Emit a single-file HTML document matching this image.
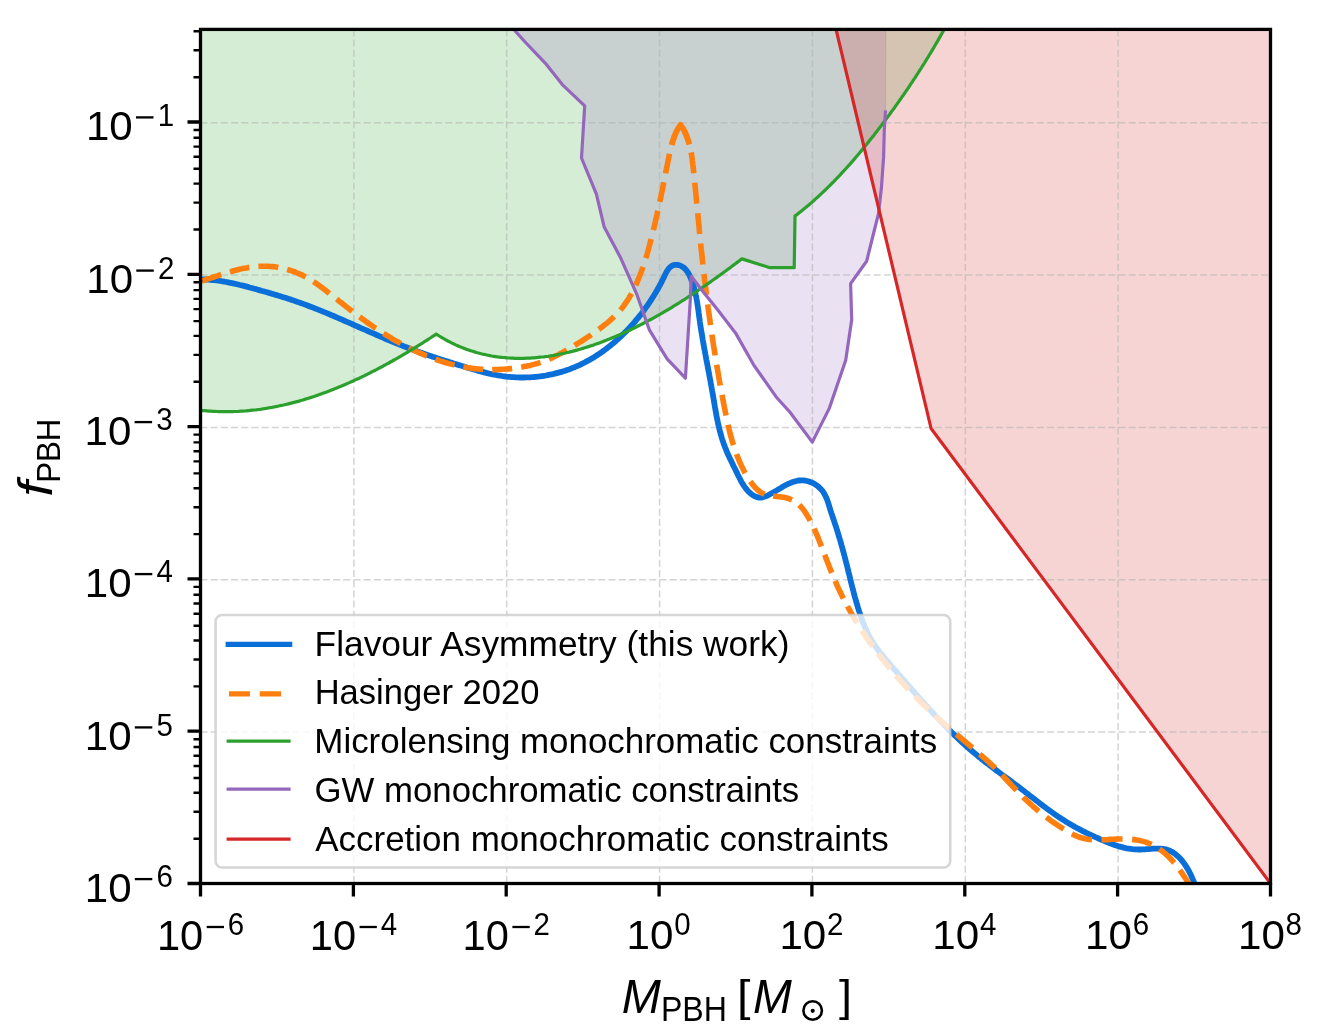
<!DOCTYPE html>
<html><head><meta charset="utf-8"><style>html,body{margin:0;padding:0;background:#fff;width:1331px;height:1034px;overflow:hidden}svg{display:block;will-change:transform}text{font-family:"Liberation Sans",sans-serif}</style></head><body>
<svg width="1331" height="1034" viewBox="0 0 1331 1034">
<defs><clipPath id="ax"><rect x="200.5" y="29.4" width="1070" height="854.1"/></clipPath></defs>
<rect x="0" y="0" width="1331" height="1034" fill="#fff"/>
<g clip-path="url(#ax)">
<path d="M194.9 409.6 L196.9 409.9 L198.9 410.1 L200.9 410.3 L202.9 410.6 L204.9 410.7 L206.9 410.9 L208.9 411.1 L210.9 411.2 L212.9 411.3 L214.9 411.4 L216.9 411.5 L218.9 411.6 L220.8 411.7 L222.8 411.7 L224.8 411.7 L226.8 411.7 L228.8 411.7 L230.8 411.7 L232.8 411.6 L234.7 411.5 L236.7 411.5 L238.7 411.4 L240.7 411.2 L242.6 411.1 L244.6 411 L246.6 410.8 L248.5 410.6 L250.5 410.4 L252.5 410.2 L254.4 410 L256.4 409.8 L258.3 409.5 L260.3 409.3 L262.3 409 L264.2 408.7 L266.2 408.4 L268.1 408 L270.1 407.7 L272 407.4 L273.9 407 L275.9 406.6 L277.8 406.2 L279.7 405.8 L281.7 405.4 L283.6 405 L285.5 404.5 L287.5 404.1 L289.4 403.6 L291.3 403.1 L293.2 402.6 L295.1 402.1 L297.1 401.6 L299 401.1 L300.9 400.5 L302.8 400 L304.7 399.4 L306.6 398.8 L308.5 398.2 L310.4 397.6 L312.3 397 L314.1 396.4 L316 395.7 L317.9 395.1 L319.8 394.4 L321.7 393.8 L323.5 393.1 L325.4 392.4 L327.3 391.7 L329.2 391 L331 390.3 L332.9 389.6 L334.7 388.8 L336.6 388.1 L338.4 387.3 L340.3 386.6 L342.1 385.8 L344 385 L345.8 384.2 L347.6 383.4 L349.5 382.6 L351.3 381.8 L353.1 381 L354.9 380.1 L356.7 379.3 L358.6 378.5 L360.4 377.6 L362.2 376.7 L364 375.9 L365.8 375 L367.6 374.1 L369.4 373.2 L371.1 372.3 L372.9 371.4 L374.7 370.5 L376.5 369.6 L378.2 368.6 L380 367.7 L381.8 366.8 L383.5 365.8 L385.3 364.9 L387 363.9 L388.8 363 L390.5 362 L392.3 361 L394 360 L395.7 359.1 L397.5 358.1 L399.2 357.1 L400.9 356.1 L402.6 355.1 L404.3 354.1 L406 353.1 L407.7 352.1 L409.4 351 L411.1 350 L412.8 349 L414.5 348 L416.2 346.9 L417.9 345.9 L419.5 344.8 L421.2 343.8 L422.9 342.8 L424.5 341.7 L426.2 340.7 L427.8 339.6 L429.5 338.5 L431.1 337.5 L432.7 336.4 L434.4 335.4 L436.1 334.1 L437.4 334.9 L439.2 336 L441 337.1 L442.8 338.2 L444.6 339.2 L446.5 340.3 L448.3 341.2 L450.2 342.2 L452 343.1 L453.9 344 L455.7 344.9 L457.6 345.7 L459.4 346.5 L461.3 347.3 L463.2 348 L465 348.7 L466.9 349.4 L468.8 350.1 L470.7 350.7 L472.6 351.3 L474.5 351.9 L476.4 352.5 L478.3 353 L480.2 353.5 L482.1 354 L484 354.4 L485.9 354.8 L487.8 355.2 L489.8 355.6 L491.7 356 L493.6 356.3 L495.5 356.6 L497.5 356.9 L499.4 357.1 L501.3 357.3 L503.2 357.5 L505.2 357.7 L507.1 357.9 L509.1 358 L511 358.1 L512.9 358.2 L514.9 358.3 L516.8 358.3 L518.8 358.4 L520.7 358.4 L522.7 358.3 L524.6 358.3 L526.6 358.2 L528.5 358.2 L530.5 358.1 L532.4 357.9 L534.3 357.8 L536.3 357.6 L538.2 357.4 L540.2 357.2 L542.1 357 L544.1 356.8 L546 356.5 L548 356.3 L549.9 356 L551.9 355.7 L553.8 355.3 L555.8 355 L557.7 354.6 L559.6 354.2 L561.6 353.8 L563.5 353.4 L565.5 353 L567.4 352.5 L569.3 352.1 L571.3 351.6 L573.2 351.1 L575.1 350.6 L577 350.1 L579 349.5 L580.9 349 L582.8 348.4 L584.7 347.8 L586.6 347.2 L588.5 346.6 L590.4 346 L592.3 345.4 L594.2 344.7 L596.1 344 L598 343.4 L599.9 342.7 L601.8 342 L603.7 341.3 L605.5 340.6 L607.4 339.8 L609.3 339.1 L611.2 338.3 L613 337.5 L614.9 336.8 L616.7 336 L618.6 335.2 L620.4 334.4 L622.3 333.6 L624.1 332.7 L625.9 331.9 L627.7 331.1 L629.6 330.2 L631.4 329.3 L633.2 328.5 L635 327.6 L636.8 326.7 L638.6 325.8 L640.4 324.9 L642.2 324 L644 323 L645.7 322.1 L647.5 321.2 L649.3 320.2 L651.1 319.3 L652.8 318.3 L654.6 317.3 L656.3 316.4 L658.1 315.4 L659.8 314.4 L661.6 313.4 L663.3 312.4 L665 311.4 L666.8 310.3 L668.5 309.3 L670.2 308.3 L671.9 307.3 L673.6 306.2 L675.3 305.2 L677 304.1 L678.7 303.1 L680.4 302 L682.1 300.9 L683.8 299.9 L685.5 298.8 L687.1 297.7 L688.8 296.6 L690.5 295.5 L692.1 294.4 L693.8 293.3 L695.4 292.2 L697.1 291.1 L698.7 290 L700.4 288.9 L702 287.8 L703.6 286.6 L705.3 285.5 L706.9 284.4 L708.5 283.3 L710.1 282.1 L711.7 281 L713.3 279.8 L714.9 278.7 L716.5 277.6 L718.1 276.4 L719.7 275.3 L721.3 274.1 L722.9 273 L724.5 271.8 L726 270.7 L727.6 269.5 L729.2 268.4 L730.7 267.2 L732.3 266 L733.8 264.9 L735.4 263.7 L736.9 262.6 L738.5 261.4 L740 260.2 L742 258.9 L770 267.7 L794.2 267.7 L795 215.9 L796.7 214.8 L798.3 213.5 L799.8 212.3 L801.4 211.1 L802.9 209.8 L804.5 208.5 L806 207.3 L807.5 206 L809.1 204.7 L810.6 203.4 L812.1 202.1 L813.6 200.8 L815 199.4 L816.5 198.1 L818 196.8 L819.5 195.4 L820.9 194.1 L822.4 192.7 L823.8 191.3 L825.2 190 L826.7 188.6 L828.1 187.2 L829.5 185.8 L830.9 184.4 L832.3 183 L833.7 181.6 L835.1 180.1 L836.5 178.7 L837.8 177.3 L839.2 175.8 L840.6 174.4 L841.9 172.9 L843.3 171.5 L844.6 170 L846 168.5 L847.3 167 L848.6 165.6 L850 164.1 L851.3 162.6 L852.6 161.1 L853.9 159.6 L855.2 158.1 L856.5 156.5 L857.8 155 L859.1 153.5 L860.3 152 L861.6 150.4 L862.9 148.9 L864.1 147.3 L865.4 145.8 L866.7 144.2 L867.9 142.7 L869.2 141.1 L870.4 139.6 L871.6 138 L872.9 136.4 L874.1 134.9 L875.3 133.3 L876.6 131.7 L877.8 130.1 L879 128.5 L880.2 126.9 L881.4 125.4 L882.6 123.8 L883.8 122.2 L885 120.6 L886.2 119 L887.4 117.3 L888.6 115.7 L889.8 114.1 L890.9 112.5 L892.1 110.9 L893.3 109.3 L894.5 107.7 L895.6 106 L896.8 104.4 L897.9 102.8 L899.1 101.1 L900.2 99.5 L901.4 97.9 L902.5 96.2 L903.7 94.6 L904.8 93 L905.9 91.3 L907.1 89.7 L908.2 88 L909.3 86.4 L910.4 84.7 L911.5 83 L912.6 81.4 L913.7 79.7 L914.8 78.1 L915.9 76.4 L917 74.7 L918.1 73 L919.1 71.4 L920.2 69.7 L921.3 68 L922.3 66.3 L923.4 64.7 L924.5 63 L925.5 61.3 L926.5 59.6 L927.6 57.9 L928.6 56.2 L929.6 54.5 L930.7 52.8 L931.7 51.1 L932.7 49.4 L933.7 47.7 L934.7 46 L935.7 44.3 L936.7 42.6 L937.7 40.9 L938.7 39.1 L939.7 37.4 L940.6 35.7 L941.6 34 L942.6 32.3 L943.5 30.5 L944.5 28.8 L945.4 27.1 L946.4 25.3 L1300 0 L150 0Z" fill="#2ca02c" fill-opacity="0.2" stroke="#2ca02c" stroke-opacity="0.2" stroke-width="1.3"/>
<path d="M511 25 L514.5 30.3 L525.1 42 L546.4 64.4 L562.3 84.6 L584.7 105.9 L581.5 158 L596.4 194.1 L604.1 226.7 L620.3 257.2 L636.6 293.8 L649.5 330.2 L667.1 358.9 L685.4 378.2 L690.3 300 L691.2 276.3 L701.9 290.2 L717.4 309.5 L735.5 332.9 L753.6 364.8 L776 396.7 L790 412.3 L812.3 442.1 L829.4 408.1 L845.7 360.2 L851.7 319.8 L850.6 283.6 L866.6 261.3 L871.9 240 L878.5 213.6 L881.4 188 L883.6 156.9 L884.3 130 L885.5 110.3 L885.8 0 L511 0Z" fill="#9467bd" fill-opacity="0.2" stroke="#9467bd" stroke-opacity="0.2" stroke-width="1.3"/>
<path d="M835 25 L931.1 428.5 L1270.5 883.5 L1300 923.5 L1300 0 L830 0Z" fill="#d62728" fill-opacity="0.2" stroke="#d62728" stroke-opacity="0.2" stroke-width="1.3"/>
<path d="M201 29.4 V883.5 M353.9 29.4 V883.5 M506.7 29.4 V883.5 M659.6 29.4 V883.5 M812.4 29.4 V883.5 M965.3 29.4 V883.5 M1118.1 29.4 V883.5 M1271 29.4 V883.5 M200.5 884.3 H1270.5 M200.5 732 H1270.5 M200.5 579.7 H1270.5 M200.5 427.4 H1270.5 M200.5 275.1 H1270.5 M200.5 122.8 H1270.5" stroke="#b0b0b0" stroke-opacity="0.55" stroke-width="1.5" stroke-dasharray="7 3.2" fill="none"/>
<path d="M200.5 279.3 L202.5 279.3 L204.5 279.4 L206.5 279.5 L208.5 279.6 L210.5 279.8 L212.5 280 L214.5 280.2 L216.5 280.4 L218.4 280.7 L220.4 281 L222.4 281.3 L224.4 281.7 L226.3 282 L228.3 282.4 L230.2 282.8 L232.2 283.2 L234.1 283.6 L236.1 284 L238 284.5 L240 285 L241.9 285.4 L243.9 285.9 L245.8 286.4 L247.7 286.9 L249.7 287.5 L251.6 288 L253.5 288.5 L255.5 289 L257.4 289.6 L259.3 290.1 L261.3 290.7 L263.2 291.2 L265.1 291.8 L267 292.3 L269 292.9 L270.9 293.4 L272.8 294 L274.7 294.6 L276.6 295.1 L278.5 295.7 L280.5 296.3 L282.4 296.9 L284.3 297.5 L286.2 298.1 L288.1 298.7 L290 299.3 L291.9 300 L293.8 300.6 L295.7 301.3 L297.5 301.9 L299.4 302.6 L301.3 303.2 L303.2 303.9 L305.1 304.6 L306.9 305.3 L308.8 306 L310.7 306.7 L312.5 307.4 L314.4 308.2 L316.2 308.9 L318.1 309.6 L320 310.4 L321.8 311.1 L323.7 311.9 L325.5 312.6 L327.4 313.4 L329.2 314.2 L331 315 L332.9 315.7 L334.7 316.5 L336.6 317.3 L338.4 318.1 L340.2 318.9 L342.1 319.7 L343.9 320.5 L345.7 321.3 L347.6 322.1 L349.4 322.9 L351.2 323.7 L353 324.5 L354.9 325.3 L356.7 326.2 L358.5 327 L360.4 327.8 L362.2 328.6 L364 329.4 L365.9 330.2 L367.7 331 L369.5 331.8 L371.3 332.6 L373.2 333.4 L375 334.2 L376.8 335 L378.7 335.8 L380.5 336.6 L382.4 337.4 L384.2 338.2 L386 339 L387.9 339.8 L389.7 340.5 L391.6 341.3 L393.4 342.1 L395.2 342.8 L397.1 343.6 L399 344.3 L400.8 345.1 L402.7 345.8 L404.5 346.6 L406.4 347.3 L408.2 348 L410.1 348.7 L412 349.4 L413.9 350.1 L415.7 350.8 L417.6 351.5 L419.5 352.1 L421.4 352.8 L423.2 353.5 L425.1 354.1 L427 354.8 L428.9 355.4 L430.8 356 L432.7 356.7 L434.6 357.3 L436.5 357.9 L438.4 358.6 L440.3 359.2 L442.2 359.8 L444.1 360.4 L446 361 L447.9 361.6 L449.8 362.2 L451.7 362.8 L453.6 363.4 L455.5 364 L457.5 364.6 L459.4 365.2 L461.3 365.8 L463.2 366.3 L465.1 366.9 L467 367.5 L468.9 368.1 L470.9 368.7 L472.8 369.2 L474.7 369.8 L476.6 370.3 L478.5 370.9 L480.5 371.4 L482.4 371.9 L484.3 372.4 L486.3 372.9 L488.2 373.4 L490.2 373.8 L492.1 374.3 L494.1 374.7 L496 375 L498 375.4 L500 375.7 L501.9 376 L503.9 376.3 L505.9 376.5 L507.9 376.8 L509.9 376.9 L511.9 377.1 L513.9 377.2 L515.9 377.3 L517.9 377.4 L519.9 377.5 L521.9 377.5 L523.9 377.5 L525.9 377.4 L527.9 377.4 L529.9 377.3 L531.9 377.1 L533.9 377 L535.9 376.8 L537.9 376.6 L539.9 376.4 L541.9 376.1 L543.9 375.8 L545.9 375.5 L547.8 375.1 L549.8 374.7 L551.7 374.3 L553.7 373.9 L555.6 373.4 L557.6 372.9 L559.5 372.4 L561.4 371.9 L563.3 371.3 L565.2 370.7 L567.1 370 L569 369.4 L570.9 368.7 L572.7 367.9 L574.6 367.2 L576.4 366.4 L578.2 365.6 L580 364.8 L581.8 363.9 L583.6 363 L585.4 362.1 L587.1 361.1 L588.9 360.2 L590.6 359.2 L592.3 358.2 L594 357.2 L595.7 356.1 L597.4 355 L599.1 353.9 L600.7 352.8 L602.4 351.6 L604 350.5 L605.6 349.3 L607.2 348.1 L608.8 346.8 L610.4 345.6 L611.9 344.3 L613.5 343 L615 341.7 L616.5 340.4 L618 339.1 L619.5 337.7 L621 336.3 L622.4 334.9 L623.9 333.5 L625.3 332.1 L626.7 330.7 L628.1 329.2 L629.5 327.8 L630.8 326.3 L632.2 324.8 L633.5 323.3 L634.8 321.8 L636.1 320.2 L637.4 318.7 L638.7 317.1 L639.9 315.6 L641.2 314 L642.4 312.4 L643.6 310.8 L644.7 309.2 L645.9 307.6 L647.1 306 L648.2 304.3 L649.3 302.7 L650.4 301 L651.5 299.4 L652.5 297.7 L653.6 296.1 L654.6 294.4 L655.6 292.7 L656.6 291 L657.6 289.3 L658.5 287.6 L659.5 285.9 L660.4 284.1 L661.4 282.3 L662.3 280.4 L663.3 278.5 L664.2 276.5 L665.2 274.5 L666.2 272.5 L667.3 270.6 L668.5 268.9 L669.8 267.4 L671.3 266.2 L672.8 265.3 L674.6 264.9 L676.4 264.8 L678.3 265 L680.1 265.5 L681.8 266.3 L683.3 267.3 L684.7 268.5 L686 269.9 L687.2 271.5 L688.3 273.2 L689.3 275 L690.2 276.9 L691 278.9 L691.8 280.9 L692.5 282.9 L693.2 284.9 L693.8 286.9 L694.3 288.9 L694.8 290.9 L695.3 292.9 L695.7 294.9 L696.2 296.8 L696.5 298.8 L696.9 300.8 L697.2 302.7 L697.5 304.7 L697.8 306.6 L698.1 308.5 L698.4 310.5 L698.6 312.4 L698.9 314.3 L699.1 316.3 L699.4 318.2 L699.7 320.2 L699.9 322.1 L700.2 324.1 L700.5 326 L700.8 328 L701.1 329.9 L701.4 331.9 L701.8 333.8 L702.1 335.8 L702.4 337.7 L702.7 339.7 L703.1 341.7 L703.4 343.7 L703.8 345.6 L704.1 347.6 L704.5 349.6 L704.9 351.5 L705.2 353.5 L705.6 355.5 L706 357.5 L706.3 359.5 L706.7 361.4 L707.1 363.4 L707.5 365.4 L707.8 367.4 L708.2 369.4 L708.6 371.3 L709 373.3 L709.3 375.3 L709.7 377.3 L710.1 379.3 L710.5 381.3 L710.8 383.3 L711.2 385.2 L711.5 387.2 L711.9 389.2 L712.2 391.2 L712.6 393.2 L712.9 395.1 L713.3 397.1 L713.6 399.1 L713.9 401.1 L714.3 403.1 L714.6 405 L714.9 407 L715.3 409 L715.6 410.9 L716 412.9 L716.3 414.9 L716.7 416.8 L717.1 418.8 L717.5 420.7 L717.9 422.7 L718.3 424.6 L718.8 426.5 L719.2 428.5 L719.7 430.4 L720.2 432.3 L720.7 434.2 L721.3 436.1 L721.8 438 L722.4 439.9 L723.1 441.8 L723.7 443.7 L724.4 445.6 L725.1 447.4 L725.9 449.3 L726.6 451.1 L727.4 453 L728.2 454.8 L729.1 456.7 L729.9 458.5 L730.8 460.3 L731.7 462.1 L732.5 463.9 L733.4 465.7 L734.3 467.5 L735.2 469.3 L736.1 471.1 L737 472.9 L737.8 474.7 L738.7 476.5 L739.6 478.2 L740.5 480 L741.4 481.8 L742.5 483.5 L743.5 485.2 L744.7 487 L746 488.6 L747.4 490.3 L748.8 491.9 L750.4 493.3 L752 494.6 L753.7 495.7 L755.4 496.6 L757.2 497.2 L759 497.6 L760.8 497.6 L762.6 497.3 L764.4 496.8 L766.2 496.1 L768.1 495.3 L769.9 494.3 L771.7 493.3 L773.6 492.3 L775.4 491.2 L777.2 490.1 L779 489 L780.9 487.9 L782.7 486.8 L784.5 485.8 L786.4 484.8 L788.2 483.9 L790.1 483.1 L791.9 482.3 L793.8 481.7 L795.6 481.2 L797.5 480.7 L799.4 480.5 L801.3 480.3 L803.2 480.4 L805.2 480.6 L807.1 481 L809 481.5 L810.9 482.2 L812.8 483 L814.6 484 L816.3 485.1 L817.9 486.3 L819.5 487.7 L820.9 489.1 L822.2 490.6 L823.4 492.2 L824.4 493.9 L825.3 495.7 L826.2 497.5 L827 499.4 L827.7 501.3 L828.3 503.2 L828.9 505.1 L829.5 507.1 L830.1 509.1 L830.7 511 L831.3 512.9 L832 514.8 L832.6 516.7 L833.2 518.6 L833.9 520.5 L834.5 522.4 L835.1 524.3 L835.8 526.2 L836.4 528.1 L837 529.9 L837.6 531.8 L838.2 533.8 L838.7 535.7 L839.3 537.6 L839.9 539.5 L840.5 541.4 L841 543.3 L841.5 545.3 L842.1 547.2 L842.6 549.1 L843.1 551.1 L843.7 553 L844.2 554.9 L844.7 556.9 L845.2 558.8 L845.7 560.8 L846.2 562.7 L846.7 564.6 L847.2 566.6 L847.7 568.5 L848.1 570.5 L848.6 572.4 L849.1 574.3 L849.6 576.3 L850.1 578.2 L850.5 580.1 L851 582.1 L851.5 584 L852 585.9 L852.5 587.9 L853 589.8 L853.5 591.7 L854 593.7 L854.5 595.6 L855 597.5 L855.6 599.4 L856.1 601.4 L856.7 603.3 L857.3 605.2 L857.8 607.1 L858.4 609 L859 610.9 L859.7 612.9 L860.3 614.8 L860.9 616.7 L861.6 618.6 L862.3 620.5 L863 622.4 L863.8 624.2 L864.5 626.1 L865.3 628 L866.1 629.8 L866.9 631.6 L867.8 633.4 L868.7 635.2 L869.6 637 L870.6 638.7 L871.6 640.4 L872.6 642.1 L873.7 643.8 L874.8 645.5 L876 647.1 L877.1 648.7 L878.3 650.3 L879.5 651.9 L880.8 653.4 L882 655 L883.3 656.5 L884.6 658.1 L885.9 659.6 L887.2 661.1 L888.5 662.6 L889.8 664.1 L891.1 665.6 L892.4 667.2 L893.7 668.7 L895.1 670.2 L896.4 671.7 L897.7 673.2 L899 674.7 L900.3 676.2 L901.6 677.7 L903 679.3 L904.3 680.8 L905.6 682.3 L906.9 683.8 L908.2 685.3 L909.5 686.8 L910.9 688.3 L912.2 689.8 L913.5 691.3 L914.8 692.8 L916.2 694.4 L917.5 695.9 L918.8 697.4 L920.1 698.9 L921.5 700.4 L922.8 701.8 L924.1 703.3 L925.5 704.8 L926.8 706.3 L928.2 707.8 L929.5 709.3 L930.9 710.7 L932.2 712.2 L933.6 713.7 L935 715.2 L936.3 716.6 L937.7 718.1 L939.1 719.5 L940.4 721 L941.8 722.4 L943.2 723.8 L944.6 725.3 L946 726.7 L947.4 728.1 L948.8 729.5 L950.2 730.9 L951.6 732.3 L953.1 733.7 L954.5 735.1 L955.9 736.5 L957.4 737.9 L958.8 739.3 L960.3 740.6 L961.7 742 L963.2 743.3 L964.7 744.7 L966.2 746 L967.7 747.3 L969.2 748.7 L970.7 750 L972.2 751.3 L973.7 752.6 L975.2 753.8 L976.8 755.1 L978.3 756.4 L979.9 757.6 L981.4 758.9 L983 760.1 L984.5 761.4 L986.1 762.6 L987.7 763.8 L989.3 765 L990.9 766.3 L992.5 767.5 L994.1 768.7 L995.7 769.9 L997.3 771.1 L998.9 772.3 L1000.5 773.5 L1002.1 774.7 L1003.7 775.9 L1005.3 777.1 L1007 778.2 L1008.6 779.4 L1010.2 780.6 L1011.8 781.8 L1013.4 783 L1015 784.2 L1016.6 785.4 L1018.2 786.6 L1019.8 787.8 L1021.4 789.1 L1023 790.3 L1024.6 791.5 L1026.1 792.7 L1027.7 793.9 L1029.3 795.2 L1030.9 796.4 L1032.4 797.6 L1034 798.8 L1035.6 800.1 L1037.2 801.3 L1038.8 802.5 L1040.3 803.7 L1041.9 804.9 L1043.5 806.1 L1045.1 807.3 L1046.7 808.5 L1048.3 809.7 L1049.9 810.8 L1051.6 812 L1053.2 813.2 L1054.8 814.3 L1056.4 815.4 L1058.1 816.6 L1059.8 817.7 L1061.4 818.8 L1063.1 819.8 L1064.8 820.9 L1066.5 822 L1068.2 823 L1069.9 824 L1071.6 825 L1073.4 826 L1075.1 827 L1076.9 828 L1078.7 828.9 L1080.5 829.8 L1082.2 830.8 L1084 831.7 L1085.8 832.6 L1087.6 833.5 L1089.4 834.3 L1091.3 835.2 L1093.1 836 L1094.9 836.9 L1096.7 837.7 L1098.6 838.5 L1100.4 839.3 L1102.2 840.1 L1104.1 840.9 L1105.9 841.7 L1107.8 842.4 L1109.6 843.2 L1111.5 843.9 L1113.3 844.6 L1115.2 845.2 L1117.1 845.8 L1119 846.4 L1120.9 846.9 L1122.8 847.4 L1124.7 847.9 L1126.6 848.3 L1128.6 848.6 L1130.6 848.9 L1132.5 849.2 L1134.5 849.3 L1136.5 849.4 L1138.5 849.5 L1140.6 849.5 L1142.6 849.4 L1144.7 849.3 L1146.8 849.1 L1148.8 849 L1150.9 848.8 L1152.9 848.7 L1155 848.6 L1157 848.6 L1159 848.6 L1160.9 848.7 L1162.9 848.9 L1164.8 849.2 L1166.6 849.6 L1168.4 850.2 L1170.2 851 L1171.9 851.8 L1173.5 852.8 L1175.1 853.9 L1176.6 855.2 L1178.1 856.5 L1179.6 857.9 L1181 859.5 L1182.3 861 L1183.6 862.7 L1184.8 864.4 L1186 866.2 L1187.1 868 L1188.2 869.8 L1189.2 871.7 L1190.1 873.5 L1191.1 875.4 L1191.9 877.3 L1192.7 879.1 L1193.5 880.9 L1194.1 882.7 L1194.8 884.4 L1195.4 886.1 L1195.9 887.8" stroke="#0a6fd8" stroke-width="5.8" fill="none" stroke-linejoin="round"/>
<path d="M202.3 280.8 L202.4 280.8 L204.3 280.2 L206.2 279.5 L208 278.9 L209.9 278.3 L211.8 277.7 L213.7 277 L215.6 276.4 L217.5 275.8 L219.4 275.1 L221.3 274.5 L223.2 273.9 L225.2 273.3 L227.1 272.7 L229 272.1 L230.9 271.6 L232.9 271 L234.8 270.5 L236.7 270 L238.7 269.5 L240.6 269.1 L242.6 268.6 L244.5 268.2 L246.5 267.9 L248.5 267.5 L250.4 267.2 L252.4 267 L254.4 266.7 L256.4 266.5 L258.3 266.4 L260.3 266.3 L262.3 266.2 L264.3 266.2 L266.3 266.3 L268.3 266.3 L270.3 266.5 L272.3 266.6 L274.3 266.8 L276.3 267.1 L278.2 267.4 L280.2 267.8 L282.1 268.2 L284.1 268.6 L286 269.1 L287.9 269.7 L289.8 270.2 L291.7 270.9 L293.6 271.5 L295.5 272.2 L297.3 273 L299.2 273.8 L301 274.6 L302.8 275.5 L304.6 276.4 L306.3 277.3 L308.1 278.3 L309.8 279.3 L311.5 280.3 L313.1 281.4 L314.8 282.5 L316.4 283.6 L318.1 284.8 L319.7 286 L321.3 287.1 L322.9 288.3 L324.5 289.6 L326.1 290.8 L327.6 292 L329.2 293.2 L330.8 294.5 L332.4 295.7 L333.9 296.9 L335.5 298.2 L337.1 299.4 L338.6 300.7 L340.2 301.9 L341.8 303.1 L343.3 304.4 L344.9 305.6 L346.5 306.9 L348.1 308.1 L349.6 309.3 L351.2 310.5 L352.8 311.7 L354.4 313 L356 314.2 L357.6 315.4 L359.2 316.6 L360.8 317.7 L362.4 318.9 L364 320.1 L365.6 321.3 L367.2 322.4 L368.9 323.6 L370.5 324.7 L372.1 325.8 L373.8 327 L375.4 328.1 L377.1 329.2 L378.8 330.3 L380.4 331.4 L382.1 332.5 L383.8 333.5 L385.5 334.6 L387.2 335.7 L388.9 336.7 L390.6 337.7 L392.3 338.8 L394 339.8 L395.7 340.8 L397.5 341.7 L399.2 342.7 L401 343.7 L402.7 344.6 L404.5 345.6 L406.3 346.5 L408.1 347.4 L409.8 348.3 L411.6 349.2 L413.4 350.1 L415.3 350.9 L417.1 351.8 L418.9 352.6 L420.7 353.4 L422.6 354.2 L424.4 355 L426.3 355.8 L428.1 356.5 L430 357.3 L431.9 358 L433.7 358.7 L435.6 359.4 L437.5 360 L439.4 360.7 L441.3 361.3 L443.2 361.9 L445.1 362.5 L447 363 L448.9 363.6 L450.9 364.1 L452.8 364.6 L454.7 365.1 L456.7 365.5 L458.6 366 L460.6 366.4 L462.5 366.8 L464.5 367.1 L466.4 367.5 L468.4 367.8 L470.4 368.1 L472.3 368.4 L474.3 368.6 L476.3 368.8 L478.3 369 L480.3 369.2 L482.3 369.3 L484.2 369.5 L486.2 369.5 L488.2 369.6 L490.2 369.6 L492.2 369.7 L494.2 369.6 L496.3 369.6 L498.3 369.5 L500.3 369.4 L502.3 369.3 L504.3 369.2 L506.3 369 L508.3 368.9 L510.3 368.6 L512.3 368.4 L514.3 368.2 L516.3 367.9 L518.3 367.6 L520.3 367.3 L522.2 367 L524.2 366.6 L526.2 366.2 L528.2 365.8 L530.1 365.4 L532 364.9 L534 364.4 L535.9 363.9 L537.8 363.3 L539.7 362.7 L541.6 362.1 L543.4 361.4 L545.3 360.7 L547.1 359.9 L548.9 359.2 L550.7 358.4 L552.5 357.5 L554.3 356.7 L556.1 355.8 L557.9 354.9 L559.6 354 L561.4 353.1 L563.2 352.1 L564.9 351.1 L566.6 350.1 L568.4 349.1 L570.1 348.1 L571.8 347.1 L573.5 346.1 L575.2 345 L577 344 L578.7 342.9 L580.4 341.9 L582.1 340.8 L583.8 339.7 L585.4 338.6 L587.1 337.5 L588.8 336.4 L590.5 335.3 L592.1 334.1 L593.8 333 L595.4 331.8 L597 330.7 L598.7 329.5 L600.3 328.3 L601.9 327.1 L603.4 325.8 L605 324.6 L606.6 323.3 L608.1 322.1 L609.6 320.8 L611.1 319.4 L612.6 318.1 L614 316.7 L615.4 315.3 L616.8 313.9 L618.2 312.5 L619.5 311 L620.8 309.5 L622.1 308 L623.3 306.4 L624.5 304.8 L625.6 303.2 L626.7 301.5 L627.8 299.9 L628.9 298.2 L629.9 296.4 L630.9 294.7 L631.8 292.9 L632.8 291.2 L633.7 289.4 L634.6 287.6 L635.4 285.7 L636.3 283.9 L637.1 282.1 L637.9 280.2 L638.6 278.4 L639.4 276.5 L640.1 274.7 L640.9 272.8 L641.6 270.9 L642.2 269 L642.9 267.2 L643.5 265.3 L644.2 263.4 L644.8 261.5 L645.4 259.6 L646 257.7 L646.6 255.7 L647.2 253.8 L647.7 251.9 L648.3 250 L648.8 248.1 L649.3 246.1 L649.8 244.2 L650.3 242.3 L650.8 240.3 L651.3 238.4 L651.8 236.5 L652.3 234.5 L652.8 232.6 L653.2 230.7 L653.7 228.7 L654.2 226.8 L654.6 224.8 L655.1 222.9 L655.5 220.9 L656 219 L656.4 217.1 L656.9 215.1 L657.3 213.2 L657.7 211.2 L658.2 209.3 L658.6 207.3 L659 205.4 L659.4 203.4 L659.8 201.5 L660.3 199.5 L660.7 197.6 L661.1 195.6 L661.5 193.7 L661.9 191.7 L662.3 189.8 L662.7 187.8 L663.1 185.8 L663.5 183.9 L663.9 181.9 L664.3 180 L664.7 178 L665.1 176 L665.5 174.1 L665.8 172.1 L666.2 170.2 L666.6 168.2 L667 166.2 L667.4 164.3 L667.8 162.3 L668.2 160.3 L668.6 158.4 L669 156.4 L669.4 154.4 L669.8 152.5 L670.2 150.5 L670.7 148.6 L671.2 146.6 L671.7 144.7" stroke="#ff7f0e" stroke-width="5.6" fill="none" stroke-dasharray="19.96 9.10" stroke-linejoin="round"/>
<path d="M671.7 144.7 L672.2 142.8 L672.8 140.9 L673.5 139 L674.1 137.2 L674.8 135.3 L675.6 133.5 L676.4 131.7 L677.3 129.9 L678.3 128.2 L679.3 126.4 L680.4 124.7 L681.7 126.4 L682.8 128.2 L683.8 129.9 L684.7 131.7 L685.5 133.5 L686.3 135.3 L687 137.2 L687.7 139 L688.3 140.9 L688.9 142.8 L689.4 144.7 L689.9 146.6 L690.3 148.5 L690.8 150.5 L691.1 152.4" stroke="#ff7f0e" stroke-width="5.6" fill="none" stroke-dasharray="17.83 8.13" stroke-linejoin="round"/>
<path d="M691.1 152.4 L691.5 154.4 L691.8 156.4 L692.1 158.3 L692.3 160.3 L692.6 162.3 L692.8 164.3 L693.1 166.3 L693.3 168.3 L693.5 170.3 L693.7 172.3 L693.9 174.3 L694.1 176.3 L694.3 178.3 L694.5 180.3 L694.7 182.3 L694.9 184.3 L695.1 186.3 L695.3 188.3 L695.5 190.3 L695.7 192.3 L695.9 194.3 L696.1 196.3 L696.3 198.3 L696.5 200.3 L696.7 202.3 L696.9 204.3 L697.1 206.3 L697.2 208.3 L697.4 210.3 L697.6 212.3 L697.8 214.3 L698 216.2 L698.2 218.2 L698.4 220.2 L698.6 222.2 L698.8 224.2 L699 226.2 L699.2 228.2 L699.3 230.2 L699.5 232.2 L699.7 234.2 L699.9 236.2 L700.1 238.1 L700.3 240.1 L700.5 242.1 L700.7 244.1 L700.9 246.1 L701.1 248.1 L701.3 250.1 L701.6 252.1 L701.8 254.1 L702 256 L702.2 258 L702.4 260 L702.6 262 L702.8 264 L703 266 L703.3 268 L703.5 269.9 L703.7 271.9 L703.9 273.9 L704.2 275.9 L704.4 277.9 L704.6 279.9 L704.9 281.8 L705.1 283.8 L705.4 285.8 L705.6 287.8 L705.8 289.8 L706.1 291.7 L706.3 293.7 L706.6 295.7 L706.8 297.7 L707.1 299.7 L707.3 301.7 L707.6 303.6 L707.9 305.6 L708.1 307.6 L708.4 309.6 L708.7 311.5 L708.9 313.5 L709.2 315.5 L709.5 317.5 L709.7 319.5 L710 321.4 L710.3 323.4 L710.6 325.4 L710.9 327.4 L711.2 329.3 L711.4 331.3 L711.7 333.3 L712 335.3 L712.3 337.3 L712.6 339.2 L712.9 341.2 L713.2 343.2 L713.5 345.2 L713.8 347.1 L714.1 349.1 L714.5 351.1 L714.8 353.1 L715.1 355 L715.4 357 L715.7 359 L716 361 L716.4 362.9 L716.7 364.9 L717 366.9 L717.4 368.9 L717.7 370.8 L718 372.8 L718.4 374.8 L718.7 376.7 L719.1 378.7 L719.4 380.7 L719.8 382.7 L720.1 384.6 L720.5 386.6 L720.8 388.6 L721.2 390.6 L721.6 392.5 L721.9 394.5 L722.3 396.5 L722.7 398.4 L723.1 400.4 L723.4 402.4 L723.8 404.4 L724.2 406.3 L724.6 408.3 L725 410.3 L725.4 412.2 L725.8 414.2 L726.2 416.2 L726.6 418.1 L727 420.1 L727.4 422.1 L727.9 424 L728.3 426 L728.8 427.9 L729.2 429.9 L729.7 431.8 L730.2 433.8 L730.7 435.7 L731.2 437.6 L731.8 439.5 L732.3 441.5 L732.9 443.4 L733.5 445.3 L734.1 447.2 L734.7 449.1 L735.4 451 L736.1 452.8 L736.7 454.7 L737.5 456.6 L738.2 458.4 L739 460.2 L739.7 462.1 L740.6 463.9 L741.4 465.7 L742.3 467.5 L743.2 469.3 L744.1 471.1 L745 472.8 L746 474.6 L747 476.3 L748.1 478.1 L749.2 479.8 L750.3 481.5" stroke="#ff7f0e" stroke-width="5.6" fill="none" stroke-dasharray="21.00 9.57" stroke-linejoin="round"/>
<path d="M750.3 481.5 L751.5 483.1 L752.7 484.7 L754 486.2 L755.3 487.7 L756.7 489 L758.1 490.3 L759.6 491.5 L761.2 492.6 L762.9 493.5 L764.6 494.3 L766.5 494.9 L768.4 495.4 L770.4 495.8 L772.4 496.1 L774.5 496.3 L776.6 496.5 L778.7 496.7 L780.8 496.9 L782.9 497.2 L784.9 497.5 L786.9 498 L788.8 498.6 L790.6 499.3 L792.4 500.1 L794.1 501 L795.8 502.1 L797.3 503.3 L798.8 504.6 L800.2 506 L801.6 507.5 L802.9 509 L804.1 510.7 L805.3 512.4 L806.4 514.1 L807.4 515.9 L808.5 517.6 L809.5 519.4 L810.4 521.2 L811.4 523 L812.3 524.8 L813.2 526.6 L814 528.4 L814.8 530.2 L815.6 532 L816.4 533.9 L817.2 535.7 L818 537.5 L818.7 539.4 L819.4 541.2 L820.2 543.1 L820.9 544.9 L821.6 546.8 L822.3 548.6 L823 550.5 L823.7 552.4 L824.5 554.2 L825.2 556.1 L825.9 558 L826.6 559.8 L827.3 561.7 L828.1 563.6 L828.8 565.5 L829.5 567.3 L830.3 569.2 L831 571.1 L831.8 572.9 L832.5 574.8 L833.3 576.7 L834.1 578.5 L834.9 580.4 L835.7 582.2 L836.5 584 L837.3 585.9 L838.1 587.7 L839 589.5 L839.9 591.3 L840.7 593.1 L841.6 594.9 L842.5 596.7 L843.4 598.5 L844.3 600.3 L845.2 602 L846.1 603.8 L847.1 605.6 L848 607.3 L849 609.1 L850 610.8 L850.9 612.6 L851.9 614.3 L852.9 616 L853.9 617.7 L855 619.5 L856 621.2 L857 622.9 L858.1 624.6 L859.1 626.3 L860.2 628 L861.3 629.6 L862.4 631.3 L863.5 633 L864.6 634.6 L865.7 636.3 L866.8 637.9 L867.9 639.6 L869.1 641.2 L870.2 642.9 L871.4 644.5 L872.5 646.1 L873.7 647.7 L874.9 649.3 L876.1 650.9 L877.3 652.5 L878.5 654.1 L879.7 655.7 L880.9 657.3 L882.1 658.9 L883.4 660.4 L884.6 662 L885.9 663.6 L887.1 665.1 L888.4 666.7 L889.7 668.2 L891 669.7 L892.2 671.3 L893.5 672.8 L894.8 674.3 L896.1 675.8 L897.5 677.3 L898.8 678.8 L900.1 680.3 L901.5 681.8 L902.8 683.3 L904.1 684.8 L905.5 686.2 L906.9 687.7 L908.2 689.2 L909.6 690.6 L911 692.1 L912.4 693.5 L913.8 695 L915.2 696.4 L916.6 697.8 L918 699.3 L919.4 700.7 L920.8 702.1 L922.2 703.5 L923.7 704.9 L925.1 706.3 L926.6 707.7 L928 709.1 L929.5 710.4 L930.9 711.8 L932.4 713.2 L933.9 714.5 L935.3 715.9 L936.8 717.3 L938.3 718.6 L939.8 719.9 L941.3 721.3 L942.8 722.6 L944.3 723.9 L945.8 725.3 L947.3 726.6 L948.8 727.9 L950.3 729.2 L951.8 730.5 L953.4 731.8 L954.9 733.1 L956.4 734.3" stroke="#ff7f0e" stroke-width="5.6" fill="none" stroke-dasharray="19.37 8.82" stroke-linejoin="round"/>
<path d="M956.4 734.3 L958 735.6 L959.5 736.9 L961 738.2 L962.6 739.5 L964.1 740.8 L965.6 742 L967.2 743.3 L968.7 744.6 L970.2 745.9 L971.7 747.2 L973.3 748.5 L974.8 749.8 L976.3 751 L977.8 752.3 L979.3 753.7 L980.8 755 L982.3 756.3 L983.8 757.6 L985.3 758.9 L986.8 760.3 L988.3 761.6 L989.7 763 L991.2 764.4 L992.7 765.7 L994.1 767.1 L995.5 768.5 L996.9 769.9 L998.4 771.4 L999.8 772.8 L1001.2 774.2 L1002.6 775.7 L1003.9 777.1 L1005.3 778.6 L1006.7 780 L1008.1 781.5 L1009.5 783 L1010.8 784.4 L1012.2 785.9 L1013.6 787.3 L1015 788.8 L1016.4 790.2 L1017.8 791.7 L1019.2 793.1 L1020.6 794.5 L1022 795.9 L1023.4 797.3 L1024.8 798.7 L1026.3 800.1 L1027.7 801.5 L1029.2 802.8 L1030.6 804.2 L1032.1 805.5 L1033.6 806.8 L1035.1 808.1 L1036.6 809.4 L1038.1 810.7 L1039.7 812 L1041.2 813.2 L1042.7 814.5 L1044.3 815.7 L1045.9 816.9 L1047.5 818.1 L1049.1 819.3 L1050.7 820.5 L1052.3 821.6 L1054 822.8 L1055.6 823.9 L1057.3 825 L1059 826.2 L1060.7 827.2 L1062.4 828.3 L1064.1 829.4 L1065.9 830.4 L1067.6 831.5 L1069.4 832.5 L1071.2 833.5 L1073 834.4 L1074.8 835.3 L1076.7 836.1 L1078.5 836.8 L1080.4 837.5 L1082.3 838.1 L1084.2 838.5 L1086.1 838.9 L1088 839.2 L1089.9 839.5 L1091.9 839.7 L1093.9 839.8 L1095.8 839.9 L1097.8 839.9 L1099.8 839.9 L1101.8 839.8 L1103.8 839.8 L1105.8 839.7 L1107.8 839.6 L1109.9 839.4 L1111.9 839.3 L1113.9 839.2 L1115.9 839.1 L1118 839 L1120 839 L1122 839 L1124.1 839 L1126.1 839 L1128.1 839.1 L1130.1 839.2 L1132.1 839.4" stroke="#ff7f0e" stroke-width="5.6" fill="none" stroke-dasharray="21.03 9.58" stroke-linejoin="round"/>
<path d="M1132.1 839.4 L1134.1 839.6 L1136.1 839.9 L1138.1 840.2 L1140 840.6 L1142 841.1 L1143.9 841.6 L1145.8 842.1 L1147.6 842.8 L1149.4 843.5 L1151.2 844.3 L1153 845.1 L1154.7 846 L1156.4 847 L1158.1 848.1 L1159.7 849.2 L1161.3 850.4 L1162.9 851.6 L1164.4 852.9 L1165.9 854.2 L1167.4 855.6 L1168.9 857 L1170.3 858.5 L1171.7 860 L1173 861.5 L1174.4 863 L1175.7 864.6 L1176.9 866.2 L1178.2 867.8 L1179.4 869.5 L1180.6 871.1 L1181.8 872.8 L1182.9 874.5 L1184 876.2 L1185.1 877.8 L1186.2 879.5 L1187.2 881.2 L1188.2 882.9 L1189.2 884.5 L1190.2 886.2 L1191.1 887.8" stroke="#ff7f0e" stroke-width="5.6" fill="none" stroke-dasharray="20.20 9.20" stroke-linejoin="round"/>
<path d="M671.7 144.7 L672.2 142.8 L672.8 140.9 L673.5 139 L674.1 137.2 L674.8 135.3 L675.6 133.5 L676.4 131.7 L677.3 129.9 L678.3 128.2 L679.3 126.4 L680.4 124.7 L681.7 126.4 L682.8 128.2 L683.8 129.9 L684.7 131.7 L685.5 133.5 L686.3 135.3 L687 137.2 L687.7 139 L688.3 140.9 L688.9 142.8 L689 143.1" stroke="#ff7f0e" stroke-width="5.6" fill="none" stroke-linejoin="round"/>
<path d="M194.9 409.6 L196.9 409.9 L198.9 410.1 L200.9 410.3 L202.9 410.6 L204.9 410.7 L206.9 410.9 L208.9 411.1 L210.9 411.2 L212.9 411.3 L214.9 411.4 L216.9 411.5 L218.9 411.6 L220.8 411.7 L222.8 411.7 L224.8 411.7 L226.8 411.7 L228.8 411.7 L230.8 411.7 L232.8 411.6 L234.7 411.5 L236.7 411.5 L238.7 411.4 L240.7 411.2 L242.6 411.1 L244.6 411 L246.6 410.8 L248.5 410.6 L250.5 410.4 L252.5 410.2 L254.4 410 L256.4 409.8 L258.3 409.5 L260.3 409.3 L262.3 409 L264.2 408.7 L266.2 408.4 L268.1 408 L270.1 407.7 L272 407.4 L273.9 407 L275.9 406.6 L277.8 406.2 L279.7 405.8 L281.7 405.4 L283.6 405 L285.5 404.5 L287.5 404.1 L289.4 403.6 L291.3 403.1 L293.2 402.6 L295.1 402.1 L297.1 401.6 L299 401.1 L300.9 400.5 L302.8 400 L304.7 399.4 L306.6 398.8 L308.5 398.2 L310.4 397.6 L312.3 397 L314.1 396.4 L316 395.7 L317.9 395.1 L319.8 394.4 L321.7 393.8 L323.5 393.1 L325.4 392.4 L327.3 391.7 L329.2 391 L331 390.3 L332.9 389.6 L334.7 388.8 L336.6 388.1 L338.4 387.3 L340.3 386.6 L342.1 385.8 L344 385 L345.8 384.2 L347.6 383.4 L349.5 382.6 L351.3 381.8 L353.1 381 L354.9 380.1 L356.7 379.3 L358.6 378.5 L360.4 377.6 L362.2 376.7 L364 375.9 L365.8 375 L367.6 374.1 L369.4 373.2 L371.1 372.3 L372.9 371.4 L374.7 370.5 L376.5 369.6 L378.2 368.6 L380 367.7 L381.8 366.8 L383.5 365.8 L385.3 364.9 L387 363.9 L388.8 363 L390.5 362 L392.3 361 L394 360 L395.7 359.1 L397.5 358.1 L399.2 357.1 L400.9 356.1 L402.6 355.1 L404.3 354.1 L406 353.1 L407.7 352.1 L409.4 351 L411.1 350 L412.8 349 L414.5 348 L416.2 346.9 L417.9 345.9 L419.5 344.8 L421.2 343.8 L422.9 342.8 L424.5 341.7 L426.2 340.7 L427.8 339.6 L429.5 338.5 L431.1 337.5 L432.7 336.4 L434.4 335.4 L436.1 334.1 L437.4 334.9 L439.2 336 L441 337.1 L442.8 338.2 L444.6 339.2 L446.5 340.3 L448.3 341.2 L450.2 342.2 L452 343.1 L453.9 344 L455.7 344.9 L457.6 345.7 L459.4 346.5 L461.3 347.3 L463.2 348 L465 348.7 L466.9 349.4 L468.8 350.1 L470.7 350.7 L472.6 351.3 L474.5 351.9 L476.4 352.5 L478.3 353 L480.2 353.5 L482.1 354 L484 354.4 L485.9 354.8 L487.8 355.2 L489.8 355.6 L491.7 356 L493.6 356.3 L495.5 356.6 L497.5 356.9 L499.4 357.1 L501.3 357.3 L503.2 357.5 L505.2 357.7 L507.1 357.9 L509.1 358 L511 358.1 L512.9 358.2 L514.9 358.3 L516.8 358.3 L518.8 358.4 L520.7 358.4 L522.7 358.3 L524.6 358.3 L526.6 358.2 L528.5 358.2 L530.5 358.1 L532.4 357.9 L534.3 357.8 L536.3 357.6 L538.2 357.4 L540.2 357.2 L542.1 357 L544.1 356.8 L546 356.5 L548 356.3 L549.9 356 L551.9 355.7 L553.8 355.3 L555.8 355 L557.7 354.6 L559.6 354.2 L561.6 353.8 L563.5 353.4 L565.5 353 L567.4 352.5 L569.3 352.1 L571.3 351.6 L573.2 351.1 L575.1 350.6 L577 350.1 L579 349.5 L580.9 349 L582.8 348.4 L584.7 347.8 L586.6 347.2 L588.5 346.6 L590.4 346 L592.3 345.4 L594.2 344.7 L596.1 344 L598 343.4 L599.9 342.7 L601.8 342 L603.7 341.3 L605.5 340.6 L607.4 339.8 L609.3 339.1 L611.2 338.3 L613 337.5 L614.9 336.8 L616.7 336 L618.6 335.2 L620.4 334.4 L622.3 333.6 L624.1 332.7 L625.9 331.9 L627.7 331.1 L629.6 330.2 L631.4 329.3 L633.2 328.5 L635 327.6 L636.8 326.7 L638.6 325.8 L640.4 324.9 L642.2 324 L644 323 L645.7 322.1 L647.5 321.2 L649.3 320.2 L651.1 319.3 L652.8 318.3 L654.6 317.3 L656.3 316.4 L658.1 315.4 L659.8 314.4 L661.6 313.4 L663.3 312.4 L665 311.4 L666.8 310.3 L668.5 309.3 L670.2 308.3 L671.9 307.3 L673.6 306.2 L675.3 305.2 L677 304.1 L678.7 303.1 L680.4 302 L682.1 300.9 L683.8 299.9 L685.5 298.8 L687.1 297.7 L688.8 296.6 L690.5 295.5 L692.1 294.4 L693.8 293.3 L695.4 292.2 L697.1 291.1 L698.7 290 L700.4 288.9 L702 287.8 L703.6 286.6 L705.3 285.5 L706.9 284.4 L708.5 283.3 L710.1 282.1 L711.7 281 L713.3 279.8 L714.9 278.7 L716.5 277.6 L718.1 276.4 L719.7 275.3 L721.3 274.1 L722.9 273 L724.5 271.8 L726 270.7 L727.6 269.5 L729.2 268.4 L730.7 267.2 L732.3 266 L733.8 264.9 L735.4 263.7 L736.9 262.6 L738.5 261.4 L740 260.2 L742 258.9 L770 267.7 L794.2 267.7 L795 215.9 L796.7 214.8 L798.3 213.5 L799.8 212.3 L801.4 211.1 L802.9 209.8 L804.5 208.5 L806 207.3 L807.5 206 L809.1 204.7 L810.6 203.4 L812.1 202.1 L813.6 200.8 L815 199.4 L816.5 198.1 L818 196.8 L819.5 195.4 L820.9 194.1 L822.4 192.7 L823.8 191.3 L825.2 190 L826.7 188.6 L828.1 187.2 L829.5 185.8 L830.9 184.4 L832.3 183 L833.7 181.6 L835.1 180.1 L836.5 178.7 L837.8 177.3 L839.2 175.8 L840.6 174.4 L841.9 172.9 L843.3 171.5 L844.6 170 L846 168.5 L847.3 167 L848.6 165.6 L850 164.1 L851.3 162.6 L852.6 161.1 L853.9 159.6 L855.2 158.1 L856.5 156.5 L857.8 155 L859.1 153.5 L860.3 152 L861.6 150.4 L862.9 148.9 L864.1 147.3 L865.4 145.8 L866.7 144.2 L867.9 142.7 L869.2 141.1 L870.4 139.6 L871.6 138 L872.9 136.4 L874.1 134.9 L875.3 133.3 L876.6 131.7 L877.8 130.1 L879 128.5 L880.2 126.9 L881.4 125.4 L882.6 123.8 L883.8 122.2 L885 120.6 L886.2 119 L887.4 117.3 L888.6 115.7 L889.8 114.1 L890.9 112.5 L892.1 110.9 L893.3 109.3 L894.5 107.7 L895.6 106 L896.8 104.4 L897.9 102.8 L899.1 101.1 L900.2 99.5 L901.4 97.9 L902.5 96.2 L903.7 94.6 L904.8 93 L905.9 91.3 L907.1 89.7 L908.2 88 L909.3 86.4 L910.4 84.7 L911.5 83 L912.6 81.4 L913.7 79.7 L914.8 78.1 L915.9 76.4 L917 74.7 L918.1 73 L919.1 71.4 L920.2 69.7 L921.3 68 L922.3 66.3 L923.4 64.7 L924.5 63 L925.5 61.3 L926.5 59.6 L927.6 57.9 L928.6 56.2 L929.6 54.5 L930.7 52.8 L931.7 51.1 L932.7 49.4 L933.7 47.7 L934.7 46 L935.7 44.3 L936.7 42.6 L937.7 40.9 L938.7 39.1 L939.7 37.4 L940.6 35.7 L941.6 34 L942.6 32.3 L943.5 30.5 L944.5 28.8 L945.4 27.1 L946.4 25.3" stroke="#2ca02c" stroke-width="3.2" fill="none" stroke-linejoin="round"/>
<path d="M511 25 L514.5 30.3 L525.1 42 L546.4 64.4 L562.3 84.6 L584.7 105.9 L581.5 158 L596.4 194.1 L604.1 226.7 L620.3 257.2 L636.6 293.8 L649.5 330.2 L667.1 358.9 L685.4 378.2 L690.3 300 L691.2 276.3 L701.9 290.2 L717.4 309.5 L735.5 332.9 L753.6 364.8 L776 396.7 L790 412.3 L812.3 442.1 L829.4 408.1 L845.7 360.2 L851.7 319.8 L850.6 283.6 L866.6 261.3 L871.9 240 L878.5 213.6 L881.4 188 L883.6 156.9 L884.3 130 L885.5 110.3" stroke="#9467bd" stroke-width="3.2" fill="none" stroke-linejoin="round"/>
<path d="M835 25 L931.1 428.5 L1270.5 883.5" stroke="#d62728" stroke-width="3.2" fill="none" stroke-linejoin="round"/>
</g>
<rect x="200.5" y="29.4" width="1070" height="854.1" fill="none" stroke="#000" stroke-width="3.3" stroke-linejoin="miter"/>
<path d="M200.5 883.5 V896.5 M353.4 883.5 V896.5 M506.2 883.5 V896.5 M659.1 883.5 V896.5 M811.9 883.5 V896.5 M964.8 883.5 V896.5 M1117.6 883.5 V896.5 M1270.5 883.5 V896.5 M200.5 883.5 H187.5 M200.5 731.2 H187.5 M200.5 578.9 H187.5 M200.5 426.6 H187.5 M200.5 274.3 H187.5 M200.5 122 H187.5" stroke="#000" stroke-width="3.3" fill="none"/>
<path d="M200.5 838.7 H193.5 M200.5 811.8 H193.5 M200.5 792.8 H193.5 M200.5 778 H193.5 M200.5 766 H193.5 M200.5 755.8 H193.5 M200.5 747 H193.5 M200.5 739.2 H193.5 M200.5 686.4 H193.5 M200.5 659.5 H193.5 M200.5 640.5 H193.5 M200.5 625.7 H193.5 M200.5 613.7 H193.5 M200.5 603.5 H193.5 M200.5 594.7 H193.5 M200.5 586.9 H193.5 M200.5 534.1 H193.5 M200.5 507.2 H193.5 M200.5 488.2 H193.5 M200.5 473.4 H193.5 M200.5 461.4 H193.5 M200.5 451.2 H193.5 M200.5 442.4 H193.5 M200.5 434.6 H193.5 M200.5 381.8 H193.5 M200.5 354.9 H193.5 M200.5 335.9 H193.5 M200.5 321.1 H193.5 M200.5 309.1 H193.5 M200.5 298.9 H193.5 M200.5 290.1 H193.5 M200.5 282.3 H193.5 M200.5 229.5 H193.5 M200.5 202.6 H193.5 M200.5 183.6 H193.5 M200.5 168.8 H193.5 M200.5 156.8 H193.5 M200.5 146.6 H193.5 M200.5 137.8 H193.5 M200.5 130 H193.5 M200.5 77.2 H193.5 M200.5 50.3 H193.5 M200.5 31.3 H193.5" stroke="#000" stroke-width="2.4" fill="none"/>
<text x="0" y="0" font-size="100" transform="matrix(0.4210 0 0 0.4150 84.75 901.75)">10</text>
<rect x="134.80" y="877.95" width="17.50" height="2.30" fill="#000"/>
<text x="0" y="0" font-size="100" transform="matrix(0.2950 0 0 0.3100 156.52 887.20)">6</text>
<text x="0" y="0" font-size="100" transform="matrix(0.4210 0 0 0.4150 84.75 750.05)">10</text>
<rect x="134.80" y="726.25" width="17.50" height="2.30" fill="#000"/>
<text x="0" y="0" font-size="100" transform="matrix(0.2950 0 0 0.3100 156.52 735.50)">5</text>
<text x="0" y="0" font-size="100" transform="matrix(0.4210 0 0 0.4150 84.75 596.75)">10</text>
<rect x="134.80" y="572.95" width="17.50" height="2.30" fill="#000"/>
<text x="0" y="0" font-size="100" transform="matrix(0.2950 0 0 0.3100 156.52 582.20)">4</text>
<text x="0" y="0" font-size="100" transform="matrix(0.4210 0 0 0.4150 84.55 444.75)">10</text>
<rect x="134.60" y="420.95" width="17.50" height="2.30" fill="#000"/>
<text x="0" y="0" font-size="100" transform="matrix(0.2950 0 0 0.3100 156.32 430.20)">3</text>
<text x="0" y="0" font-size="100" transform="matrix(0.4210 0 0 0.4150 86.25 293.25)">10</text>
<rect x="136.30" y="269.45" width="17.50" height="2.30" fill="#000"/>
<text x="0" y="0" font-size="100" transform="matrix(0.2950 0 0 0.3100 158.02 278.70)">2</text>
<text x="0" y="0" font-size="100" transform="matrix(0.4210 0 0 0.4150 85.95 140.05)">10</text>
<rect x="136.00" y="116.25" width="17.50" height="2.30" fill="#000"/>
<text x="0" y="0" font-size="100" transform="matrix(0.2950 0 0 0.3100 157.72 125.50)">1</text>
<text x="0" y="0" font-size="100" transform="matrix(0.4160 0 0 0.4180 156.90 949.60)">10</text>
<rect x="206.70" y="925.85" width="17.30" height="2.30" fill="#000"/>
<text x="0" y="0" font-size="100" transform="matrix(0.2950 0 0 0.3100 227.80 934.80)">6</text>
<text x="0" y="0" font-size="100" transform="matrix(0.4160 0 0 0.4180 309.76 949.60)">10</text>
<rect x="359.56" y="925.85" width="17.30" height="2.30" fill="#000"/>
<text x="0" y="0" font-size="100" transform="matrix(0.2950 0 0 0.3100 380.66 934.80)">4</text>
<text x="0" y="0" font-size="100" transform="matrix(0.4160 0 0 0.4180 462.61 949.60)">10</text>
<rect x="512.41" y="925.85" width="17.30" height="2.30" fill="#000"/>
<text x="0" y="0" font-size="100" transform="matrix(0.2950 0 0 0.3100 533.51 934.80)">2</text>
<text x="0" y="0" font-size="100" transform="matrix(0.4218 0 0 0.4150 626.52 949.45)">10</text>
<text x="0" y="0" font-size="100" transform="matrix(0.2950 0 0 0.3100 674.17 934.60)">0</text>
<text x="0" y="0" font-size="100" transform="matrix(0.4218 0 0 0.4150 779.38 949.45)">10</text>
<text x="0" y="0" font-size="100" transform="matrix(0.2950 0 0 0.3100 827.03 934.60)">2</text>
<text x="0" y="0" font-size="100" transform="matrix(0.4218 0 0 0.4150 932.24 949.45)">10</text>
<text x="0" y="0" font-size="100" transform="matrix(0.2950 0 0 0.3100 979.89 934.60)">4</text>
<text x="0" y="0" font-size="100" transform="matrix(0.4218 0 0 0.4150 1085.09 949.45)">10</text>
<text x="0" y="0" font-size="100" transform="matrix(0.2950 0 0 0.3100 1132.74 934.60)">6</text>
<text x="0" y="0" font-size="100" transform="matrix(0.4218 0 0 0.4150 1237.95 949.45)">10</text>
<text x="0" y="0" font-size="100" transform="matrix(0.2950 0 0 0.3100 1285.60 934.60)">8</text>
<text x="0" y="0" font-size="100" transform="matrix(0 -0.5570 0.4780 0 52.30 496.70)" font-style="italic">f</text>
<text x="0" y="0" font-size="100" transform="matrix(0 -0.3120 0.3390 0 59.60 482.80)">PBH</text>
<text x="0" y="0" font-size="100" transform="matrix(0.4700 0 0 0.4783 621.79 1013.00)" font-style="italic">M</text>
<text x="0" y="0" font-size="100" transform="matrix(0.3211 0 0 0.3507 660.93 1020.60)">PBH</text>
<text x="0" y="0" font-size="100" transform="matrix(0.4850 0 0 0.4521 736.90 1010.81)">[</text>
<text x="0" y="0" font-size="100" transform="matrix(0.4662 0 0 0.4783 753.00 1013.00)" font-style="italic">M</text>
<circle cx="812.65" cy="1010.45" r="9.25" fill="none" stroke="#000" stroke-width="2.6"/><circle cx="812.7" cy="1010.8" r="2.1" fill="#000"/>
<text x="0" y="0" font-size="100" transform="matrix(0.4667 0 0 0.4521 838.90 1010.81)">]</text>
<rect x="215.6" y="615" width="734.6" height="252.5" rx="6.5" ry="6.5" fill="#fff" fill-opacity="0.8" stroke="#cccccc" stroke-opacity="0.8" stroke-width="2.6"/>
<path d="M225.6 644.3 H292.3" stroke="#0a6fd8" stroke-width="5.2"/>
<path d="M229 693.8 H250 M259.7 693.8 H281" stroke="#ff7f0e" stroke-width="5.2"/>
<path d="M226.6 741.1 H290.6" stroke="#2ca02c" stroke-width="3.2"/>
<path d="M226.6 789.1 H290.6" stroke="#9467bd" stroke-width="3.2"/>
<path d="M226.6 839.1 H290.6" stroke="#d62728" stroke-width="3.2"/>
<text x="0" y="0" font-size="100" transform="matrix(0.3533 0 0 0.3435 314.57 655.80)">Flavour Asymmetry (this work)</text>
<text x="0" y="0" font-size="100" transform="matrix(0.3457 0 0 0.3435 314.63 704.20)">Hasinger 2020</text>
<text x="0" y="0" font-size="100" transform="matrix(0.3494 0 0 0.3435 314.30 752.60)">Microlensing monochromatic constraints</text>
<text x="0" y="0" font-size="100" transform="matrix(0.3475 0 0 0.3435 314.56 801.60)">GW monochromatic constraints</text>
<text x="0" y="0" font-size="100" transform="matrix(0.3499 0 0 0.3435 315.20 850.60)">Accretion monochromatic constraints</text>
</svg>
</body></html>
